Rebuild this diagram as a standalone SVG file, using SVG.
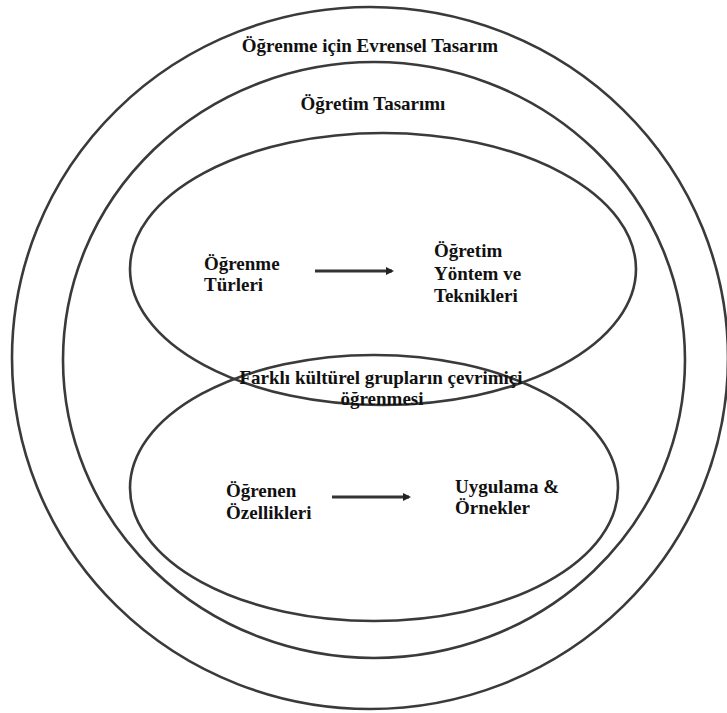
<svg xmlns="http://www.w3.org/2000/svg" width="727" height="713" viewBox="0 0 727 713">
<style>
.ring{fill:none;stroke:#3a3a3a;stroke-width:2.6}
.t{font-family:"Liberation Serif","Times New Roman",serif;font-weight:bold;font-size:19px;fill:#111}
.c{text-anchor:middle}
.conn{stroke:#333;stroke-width:3.2;fill:none}
</style>
<defs>
<marker id="ah" markerWidth="8" markerHeight="8" refX="6" refY="4" orient="auto" markerUnits="userSpaceOnUse">
<path d="M0,0 L8,4 L0,8 Z" fill="#222"/>
</marker>
</defs>
<rect width="727" height="713" fill="#fff"/>
<g id="udl">
<ellipse class="ring" cx="370" cy="358" rx="358" ry="351"/>
<text class="t c" x="370" y="52">Öğrenme için Evrensel Tasarım</text>
</g>
<g id="ogretim-tasarimi">
<ellipse class="ring" cx="374" cy="360" rx="311" ry="298"/>
<text class="t c" x="373" y="110">Öğretim Tasarımı</text>
</g>
<g id="ust-elips">
<ellipse class="ring" cx="383" cy="269" rx="253" ry="136"/>
</g>
<g id="alt-elips">
<ellipse class="ring" cx="374" cy="488" rx="244" ry="133"/>
</g>
<g id="kesisim">
<text class="t c" x="381" y="384">Farklı kültürel grupların çevrimiçi</text>
<text class="t c" x="382" y="405">öğrenmesi</text>
</g>
<g id="ogrenme-turleri">
<text class="t" x="204" y="270">Öğrenme</text>
<text class="t" x="204" y="291">Türleri</text>
</g>
<g id="ogretim-yontem">
<text class="t" x="434" y="257">Öğretim</text>
<text class="t" x="434" y="280">Yöntem ve</text>
<text class="t" x="434" y="302">Teknikleri</text>
</g>
<g id="ogrenen-ozellikleri">
<text class="t" x="226" y="497">Öğrenen</text>
<text class="t" x="226" y="519">Özellikleri</text>
</g>
<g id="uygulama">
<text class="t" x="455" y="493">Uygulama &amp;</text>
<text class="t" x="455" y="514">Örnekler</text>
</g>
<g id="connectors">
<line class="conn" x1="315" y1="271" x2="392" y2="271" marker-end="url(#ah)"/>
<line class="conn" x1="332" y1="497" x2="409" y2="497" marker-end="url(#ah)"/>
</g>
</svg>
